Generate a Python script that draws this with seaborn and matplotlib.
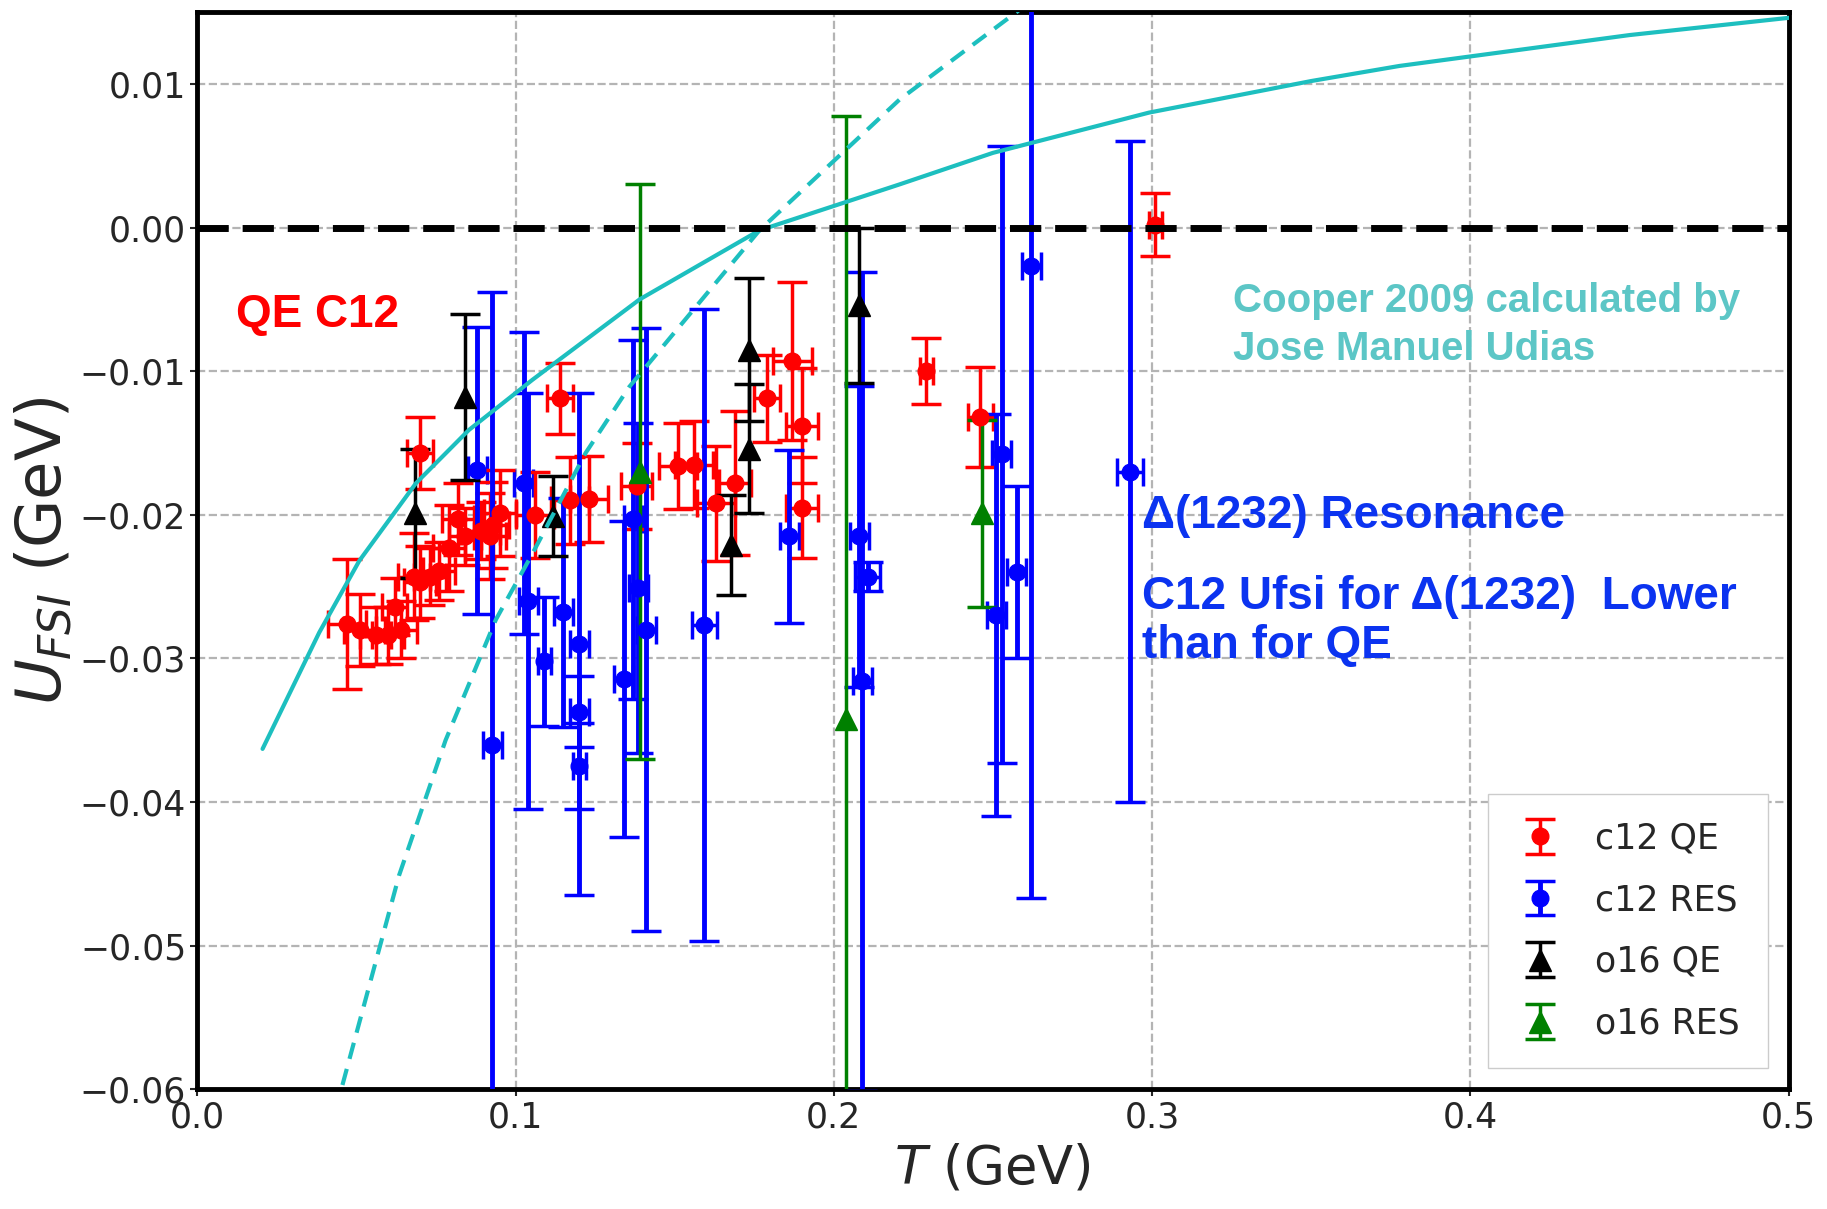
import matplotlib
matplotlib.use("Agg")
import pandas as pd
import matplotlib.pyplot as plt
import seaborn as sns

# ---- values ----
# c12 QE (red circles)
c12_qe_T = [0.047, 0.051, 0.056, 0.060, 0.062, 0.064, 0.068, 0.070, 0.070, 0.073,
            0.076, 0.079, 0.082, 0.084, 0.089, 0.092, 0.093, 0.095, 0.106, 0.114,
            0.117, 0.123, 0.138, 0.151, 0.156, 0.163, 0.169, 0.179, 0.187, 0.190,
            0.190, 0.229, 0.246, 0.301]
c12_qe_U = [-0.0276, -0.0280, -0.0284, -0.0284, -0.0264, -0.0280, -0.0243, -0.0247, -0.0157, -0.0243,
            -0.0239, -0.0223, -0.0203, -0.0215, -0.0211, -0.0215, -0.0207, -0.0199, -0.0200, -0.0119,
            -0.0190, -0.0189, -0.0180, -0.0166, -0.0165, -0.0192, -0.0178, -0.0119, -0.0093, -0.0138,
            -0.0195, -0.0100, -0.0132, 0.0002]
c12_qe_dU = [0.0045, 0.0025, 0.0020, 0.0020, 0.0020, 0.0020, 0.0030, 0.0025, 0.0025, 0.0020,
             0.0020, 0.0030, 0.0025, 0.0020, 0.0020, 0.0030, 0.0030, 0.0030, 0.0030, 0.0025,
             0.0030, 0.0030, 0.0030, 0.0030, 0.0030, 0.0040, 0.0050, 0.0030, 0.0055, 0.0040,
             0.0035, 0.0023, 0.0035, 0.0022]
c12_qe_dT = [0.006, 0.005, 0.005, 0.005, 0.004, 0.005, 0.005, 0.005, 0.004, 0.005,
             0.005, 0.005, 0.005, 0.005, 0.006, 0.005, 0.005, 0.005, 0.006, 0.004,
             0.006, 0.006, 0.005, 0.006, 0.006, 0.006, 0.005, 0.004, 0.006, 0.005,
             0.005, 0.002, 0.004, 0.002]

# c12 RES (blue circles)
c12_res_T = [0.088, 0.0927, 0.1026, 0.104, 0.109, 0.115, 0.120, 0.120, 0.120, 0.134,
             0.137, 0.1385, 0.141, 0.1593, 0.186, 0.208, 0.209, 0.2106, 0.251, 0.2527,
             0.2575, 0.262, 0.293]
c12_res_U = [-0.0169, -0.0360, -0.0178, -0.0260, -0.0302, -0.0268, -0.0290, -0.0337, -0.0375, -0.0314,
             -0.0203, -0.0251, -0.0280, -0.0277, -0.0215, -0.0215, -0.0316, -0.0243, -0.0270, -0.0158,
             -0.0240, -0.0027, -0.0170]
c12_res_dU = [0.0100, 0.0315, 0.0105, 0.0145, 0.0045, 0.0080, 0.0175, 0.0025, 0.0030, 0.0110,
              0.0125, 0.0115, 0.0210, 0.0220, 0.0060, 0.0105, 0.0285, 0.0010, 0.0140, 0.0215,
              0.0060, 0.0440, 0.0230]
c12_res_dT = [0.003, 0.003, 0.003, 0.003, 0.002, 0.003, 0.003, 0.003, 0.002, 0.003,
              0.003, 0.003, 0.003, 0.004, 0.003, 0.003, 0.003, 0.004, 0.003, 0.003,
              0.003, 0.003, 0.004]

# o16 QE (black triangles)
o16_qe_T = [0.0685, 0.0842, 0.1117, 0.1678, 0.1733, 0.1733, 0.208]
o16_qe_U = [-0.0199, -0.0118, -0.0201, -0.0221, -0.0154, -0.0085, -0.0054]
o16_qe_dU = [0.0045, 0.0058, 0.0028, 0.0035, 0.0045, 0.0050, 0.0054]

# o16 RES (green triangles)
o16_res_T = [0.139, 0.2037, 0.2465]
o16_res_U = [-0.0170, -0.0342, -0.0199]
o16_res_dU = [0.0200, 0.0420, 0.0065]

# Cooper 2009 curves (solid and dashed)
cooper_T = [0.0205, 0.0383, 0.0509, 0.0687, 0.0853, 0.1053, 0.139, 0.1766,
            0.2206, 0.25, 0.299, 0.35, 0.3777, 0.45, 0.5]
cooper_U = [-0.0363, -0.0282, -0.0232, -0.0178, -0.0141, -0.0106, -0.0050, -0.0002,
            0.0030, 0.0052, 0.0080, 0.0102, 0.01125, 0.0134, 0.0146]
cooper2_T = [0.0456, 0.0634, 0.078, 0.0938, 0.1053, 0.122, 0.1357, 0.1766, 0.2206, 0.258]
cooper2_U = [-0.0597, -0.0451, -0.0357, -0.0273, -0.0227, -0.0157, -0.0111, -0.0002, 0.0089, 0.0151]

xticks = [0.0, 0.1, 0.2, 0.3, 0.4, 0.5]
yticks = [-0.06, -0.05, -0.04, -0.03, -0.02, -0.01, 0.00, 0.01]

sns.set_style("whitegrid")
plt.rcParams['font.family'] = ['DejaVu Sans']

fig, ax = plt.subplots(figsize=(18.27, 12.09), dpi=100)
fig.subplots_adjust(left=0.108, right=0.979, top=0.990, bottom=0.099)

# horizontal error bars drawn separately so the legend only shows vertical bars
ax.errorbar(c12_qe_T, c12_qe_U, xerr=c12_qe_dT, fmt='none', ecolor='red',
            elinewidth=2.5, capsize=10, capthick=2.5, zorder=3)
ax.errorbar(c12_res_T, c12_res_U, xerr=c12_res_dT, fmt='none', ecolor='blue',
            elinewidth=2.5, capsize=10, capthick=2.5, zorder=3)

# data points with vertical error bars
ax.errorbar(c12_qe_T, c12_qe_U, yerr=c12_qe_dU, fmt='o', color='red',
            ms=12, elinewidth=2.5, capsize=11, capthick=2.5, label='c12 QE', zorder=3)
ax.errorbar(c12_res_T, c12_res_U, yerr=c12_res_dU, fmt='o', color='blue',
            ms=12, elinewidth=3.5, capsize=11, capthick=2.5, label='c12 RES', zorder=3)
ax.errorbar(o16_qe_T, o16_qe_U, yerr=o16_qe_dU, fmt='^', color='black',
            ms=16, elinewidth=2.5, capsize=11, capthick=2.5, label='o16 QE', zorder=3)
ax.errorbar(o16_res_T, o16_res_U, yerr=o16_res_dU, fmt='^', color='green',
            ms=16, elinewidth=2.5, capsize=11, capthick=2.5, label='o16 RES', zorder=3)

# theory curves
cooper = pd.DataFrame({"T": cooper_T, "U": cooper_U})
cooper2 = pd.DataFrame({"T": cooper2_T, "U": cooper2_U})
sns.lineplot(data=cooper, x="T", y="U", color="#1dbfbf", lw=3, ax=ax, legend=False,
             sort=False, zorder=4)
sns.lineplot(data=cooper2, x="T", y="U", color="#1dbfbf", lw=3, ax=ax, legend=False,
             sort=False, zorder=4)
ax.lines[-1].set_dashes((4, 2.5))

# zero line
ax.axhline(0, color='black', lw=5, zorder=5, dashes=(4.5, 2))

# annotations
txt = dict(fontweight='bold', family=['Liberation Sans', 'DejaVu Sans'], va='center', ha='left')
ax.text(0.0121, -0.0061, "QE C12", color='red', fontsize=33, **txt)
ax.text(0.3253, -0.0068, "Cooper 2009 calculated by\nJose Manuel Udias", color='#5cc6c6',
        fontsize=29, linespacing=1.35, **txt)
ax.text(0.2967, -0.0201, "\u0394(1232) Resonance", color='#0b33f0', fontsize=33, **txt)
ax.text(0.2967, -0.02745, "C12 Ufsi for \u0394(1232)  Lower\nthan for QE", color='#0b33f0',
        fontsize=33, linespacing=1.15, **txt)

ax.set_xlim(0, 0.5)
ax.set_ylim(-0.06, 0.015)
ax.set_xticks(xticks)
ax.set_yticks(yticks)
ax.grid(True, ls='--', lw=1.6, color='#b4b4b4')
ax.tick_params(labelsize=25, length=5, width=1.5, pad=3, left=True, bottom=True)
for sp in ax.spines.values():
    sp.set_linewidth(3.5)
    sp.set_color('black')

ax.set_xlabel("$T$ (GeV)", fontsize=38, labelpad=6)
ax.set_ylabel("$U_{FSI}$ (GeV)", fontsize=45, labelpad=4)

ax.legend(loc='lower right', fontsize=25, frameon=True, edgecolor='#cccccc', fancybox=False,
          framealpha=1.0, borderpad=0.8, labelspacing=0.8, handlelength=1.4,
          handletextpad=0.9, borderaxespad=0.6)

fig.savefig("out.png", dpi=100)
